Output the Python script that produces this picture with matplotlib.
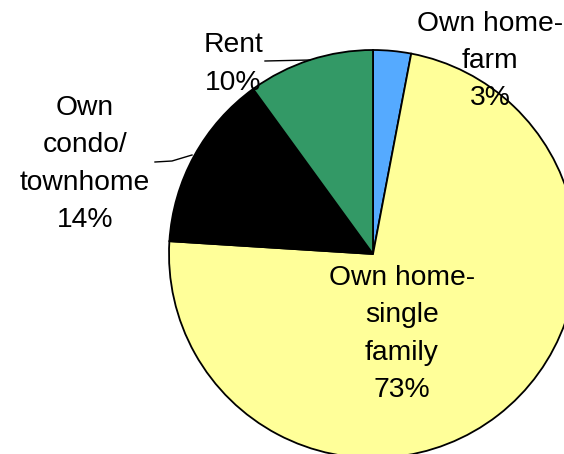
import matplotlib
matplotlib.use("Agg")
import matplotlib.pyplot as plt

categories = ["Own home-\nfarm", "Own home-\nsingle\nfamily", "Own\ncondo/\ntownhome", "Rent"]
values = [3, 73, 14, 10]
colors = ["#55AAFF", "#FFFF99", "#000000", "#339966"]

W, H = 564, 454
fig = plt.figure(figsize=(W / 100, H / 100), dpi=100)
ax = fig.add_axes([0, 0, 1, 1])

cx, cy, r = 373, H - 254, 204
ax.pie(values, colors=colors, startangle=90, counterclock=False,
       center=(cx, cy), radius=r, frame=True,
       wedgeprops=dict(edgecolor="black", linewidth=1.3))
ax.set_xlim(0, W)
ax.set_ylim(0, H)
ax.set_aspect("equal")
ax.axis("off")

label_pos = [(490, 61), (402, 334), (85, 164), (233, 64)]
for cat, v, (x, y) in zip(categories, values, label_pos):
    ax.text(x, H - y, f"{cat}\n{v}%", ha="center", va="center",
            multialignment="center", fontsize=20.3, family="Liberation Sans",
            linespacing=1.56, color="black")

# leader lines
ax.plot([265, 310], [H - 61, H - 60], color="black", lw=1.0, clip_on=False)
ax.plot([155, 172, 192], [H - 162, H - 161, H - 155], color="black", lw=1.0, clip_on=False)

fig.savefig("out.png", dpi=100)
